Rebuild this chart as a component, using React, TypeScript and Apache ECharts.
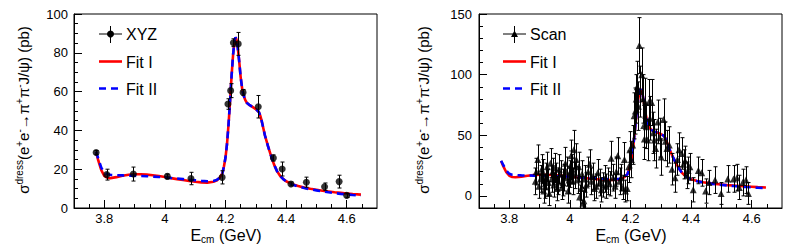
import React, { useEffect, useRef } from 'react';
import * as echarts from 'echarts';

// ---------- data ----------
const xyzE = [3.773, 3.808, 3.896, 4.008, 4.086, 4.189, 4.208, 4.217, 4.226, 4.242, 4.258, 4.308, 4.358, 4.387, 4.416, 4.467, 4.527, 4.575, 4.6];
const xyzVal = [28.6, 17.2, 17.5, 16.3, 15.2, 15.8, 53.6, 60.5, 85.2, 84.6, 59.6, 52.2, 25.8, 20.1, 12.4, 13.3, 11.0, 13.6, 6.5];
const xyzErr = [1.0, 2.8, 3.6, 1.2, 3.2, 3.4, 2.7, 3.6, 2.0, 5.9, 1.5, 5.8, 1.6, 3.6, 1.0, 2.6, 1.9, 3.3, 1.0];

const scanE = [
  3.886, 3.889, 3.894, 3.898, 3.903, 3.907, 3.910, 3.914, 3.918, 3.921,
  3.925, 3.929, 3.932, 3.936, 3.940, 3.943, 3.947, 3.951, 3.954, 3.958,
  3.962, 3.965, 3.969, 3.973, 3.977, 3.981, 3.985, 3.989, 3.994, 3.997,
  3.999, 4.002, 4.004, 4.008, 4.010, 4.013, 4.017, 4.021, 4.026, 4.029,
  4.032, 4.037, 4.040, 4.043, 4.046, 4.050, 4.054, 4.060, 4.065, 4.070,
  4.076, 4.081, 4.087, 4.092, 4.098, 4.104, 4.109, 4.115, 4.120, 4.126,
  4.131, 4.136, 4.142, 4.149, 4.153, 4.158, 4.164, 4.169, 4.175, 4.180,
  4.183, 4.189, 4.194, 4.198, 4.203, 4.207, 4.212, 4.216, 4.219, 4.222,
  4.226, 4.229, 4.233, 4.237, 4.241, 4.244, 4.246, 4.249, 4.252, 4.257,
  4.260, 4.264, 4.270, 4.275, 4.279, 4.283, 4.290, 4.296, 4.301, 4.309,
  4.315, 4.320, 4.328, 4.337, 4.347, 4.355, 4.360, 4.369, 4.375, 4.380,
  4.386, 4.390, 4.396, 4.407, 4.424, 4.435, 4.448, 4.459, 4.479, 4.499,
  4.521, 4.540, 4.551, 4.559, 4.570, 4.581, 4.589
];
const scanVal = [
  12, 20, 30, 8, 14, 22, 19, 4, 8, 16,
  24, 11, 2, 27, 14, 20, 9, 23, 16, 6,
  12, 22, 18, 7, 11, 15, 27, 20, 4, 13,
  18, 25, 33, 22, 12, 38, 17, 30, 13, 24,
  -1, 6, 18, -6, -4, 14, 9, 20, 26, 12,
  16, 6, 8, 19, 11, 5, 9, 14, 8, 12,
  10, 31, 15, 8, 20, 33, 12, 15, 7, 30,
  4, 6, 24, 38, 30, 42, 66, 70, 80, 90,
  74, 124, 86, 100, 80, 58, 47, 77, 57, 46,
  77, 64, 77, 52, 46, 39, 61, 48, 32, 63,
  45, 39, 42, 22, 15, 30, 38, 35, 26, 29,
  17, 21, 24, 5, 21, 19, 4, 11, 13, 2,
  14, 14, 15, 7, 11, 13, 2
];
const scanErr = [
  11, 11, 12, 10, 11, 12, 11, 10, 10, 11,
  12, 11, 10, 12, 11, 11, 10, 12, 11, 10,
  11, 12, 11, 10, 11, 11, 13, 12, 10, 11,
  11, 12, 13, 12, 11, 16, 11, 13, 11, 12,
  10, 10, 11, 10, 10, 11, 10, 12, 12, 11,
  11, 10, 10, 11, 11, 10, 10, 11, 10, 11,
  10, 14, 11, 10, 12, 15, 11, 11, 10, 14,
  9, 10, 13, 15, 15, 16, 19, 19, 20, 21,
  20, 23, 21, 22, 20, 18, 17, 20, 18, 17,
  19, 18, 19, 17, 17, 16, 18, 16, 15, 17,
  16, 15, 15, 13, 12, 13, 14, 13, 12, 12,
  11, 11, 11, 10, 11, 11, 10, 10, 11, 9,
  11, 11, 11, 10, 11, 11, 9
];

const fitE = [
  3.773, 3.78, 3.79, 3.80, 3.81, 3.82, 3.84, 3.86, 3.88, 3.90,
  3.92, 3.94, 3.96, 3.98, 4.00, 4.02, 4.04, 4.06, 4.08, 4.10,
  4.12, 4.14, 4.16, 4.17, 4.18, 4.19, 4.195, 4.20, 4.205, 4.21,
  4.215, 4.22, 4.225, 4.23, 4.233, 4.236, 4.24, 4.245, 4.25, 4.255,
  4.26, 4.265, 4.27, 4.28, 4.29, 4.30, 4.31, 4.315, 4.32, 4.325,
  4.33, 4.34, 4.35, 4.36, 4.37, 4.38, 4.39, 4.40, 4.42, 4.44,
  4.46, 4.48, 4.50, 4.52, 4.54, 4.56, 4.58, 4.60, 4.62, 4.647
];
const fit1 = [
  28.8, 24.5, 19.5, 16.6, 15.6, 15.4, 15.9, 16.6, 17.1, 17.4,
  17.4, 17.2, 16.9, 16.5, 16.0, 15.4, 14.9, 14.4, 13.9, 13.5,
  13.2, 13.1, 13.5, 14.1, 15.4, 18.0, 21.5, 26.0, 33.0, 43.0,
  55.0, 68.0, 79.0, 86.5, 88.0, 87.0, 83.5, 76.0, 67.5, 61.5,
  58.0, 55.7, 54.3, 53.0, 52.0, 51.0, 49.5, 47.5, 44.5, 41.0,
  37.5, 32.0, 27.0, 22.5, 19.0, 16.6, 15.0, 13.8, 12.3, 11.3,
  10.5, 9.9, 9.4, 8.9, 8.5, 8.1, 7.8, 7.5, 7.2, 6.9
];
const fit2 = [
  29.0, 25.5, 20.8, 18.2, 17.4, 17.1, 16.9, 16.8, 16.7, 16.6,
  16.5, 16.4, 16.2, 16.0, 15.8, 15.5, 15.2, 14.9, 14.6, 14.3,
  14.0, 13.8, 13.9, 14.4, 15.5, 18.0, 21.5, 26.0, 33.0, 43.0,
  55.0, 68.0, 79.0, 86.5, 88.0, 87.0, 83.5, 76.0, 67.5, 61.5,
  58.0, 55.7, 54.3, 53.0, 52.0, 51.0, 49.5, 47.5, 44.5, 41.0,
  37.5, 32.0, 27.0, 22.5, 19.0, 16.6, 15.0, 13.7, 12.1, 11.1,
  10.3, 9.6, 9.1, 8.6, 8.1, 7.7, 7.3, 7.0, 6.7, 6.3
];

const xMajor = [3.8, 4.0, 4.2, 4.4, 4.6];
const xMinor = [3.75, 3.85, 3.9, 3.95, 4.05, 4.1, 4.15, 4.25, 4.3, 4.35, 4.45, 4.5, 4.55, 4.65];
const yLeftMajor = [0, 20, 40, 60, 80, 100];
const yLeftMinor = [5, 10, 15, 25, 30, 35, 45, 50, 55, 65, 70, 75, 85, 90, 95];
const yRightMajor = [0, 50, 100, 150];
const yRightMinor = [10, 20, 30, 40, 60, 70, 80, 90, 110, 120, 130, 140];

const FONT = '"Liberation Sans", Arial, Helvetica, sans-serif';

function renderErr(params: any, api: any) {
  const x = api.value(0);
  const y = api.value(1);
  const e = api.value(2);
  const hi = api.coord([x, y + e]);
  const lo = api.coord([x, y - e]);
  const cx = Math.round(hi[0]) + 0.5;
  const cw = 2;
  const st = { stroke: '#000', lineWidth: 1 };
  return {
    type: 'group',
    children: [
      { type: 'line', shape: { x1: cx, y1: hi[1], x2: cx, y2: lo[1] }, style: st },
      { type: 'line', shape: { x1: cx - cw, y1: hi[1], x2: cx + cw, y2: hi[1] }, style: st },
      { type: 'line', shape: { x1: cx - cw, y1: lo[1], x2: cx + cw, y2: lo[1] }, style: st },
    ],
  };
}

function xAxes(grid: number) {
  return [
    {
      gridIndex: grid, type: 'value', min: 3.7, max: 4.7, position: 'bottom',
      axisLine: { show: true, onZero: false, lineStyle: { color: '#000', width: 1 } },
      axisTick: { show: true, inside: true, length: 8, customValues: xMajor, lineStyle: { color: '#000' } },
      axisLabel: { customValues: xMajor, margin: 4, color: '#000', fontSize: 13, fontFamily: FONT },
      splitLine: { show: false },
    },
    {
      gridIndex: grid, type: 'value', min: 3.7, max: 4.7, position: 'bottom',
      axisLine: { show: false, onZero: false },
      axisTick: { show: true, inside: true, length: 4, customValues: xMinor, lineStyle: { color: '#000' } },
      axisLabel: { show: false },
      splitLine: { show: false },
    },
  ];
}

function yAxes(grid: number, min: number, max: number, major: number[], minor: number[], margin: number) {
  return [
    {
      gridIndex: grid, type: 'value', min, max, position: 'left',
      axisLine: { show: true, onZero: false, lineStyle: { color: '#000', width: 1 } },
      axisTick: { show: true, inside: true, length: 8, customValues: major, lineStyle: { color: '#000' } },
      axisLabel: { customValues: major, margin, color: '#000', fontSize: 13, fontFamily: FONT },
      splitLine: { show: false },
    },
    {
      gridIndex: grid, type: 'value', min, max, position: 'left',
      axisLine: { show: false, onZero: false },
      axisTick: { show: true, inside: true, length: 4, customValues: minor, lineStyle: { color: '#000' } },
      axisLabel: { show: false },
      splitLine: { show: false },
    },
  ];
}

function fitSeries(xi: number, yi: number) {
  return [
    {
      type: 'line', xAxisIndex: xi, yAxisIndex: yi, showSymbol: false, symbol: 'none', z: 2,
      data: fitE.map((e, i) => [e, fit1[i]]),
      lineStyle: { color: '#ff0000', width: 2.6 },
    },
    {
      type: 'line', xAxisIndex: xi, yAxisIndex: yi, showSymbol: false, symbol: 'none', z: 3,
      data: fitE.map((e, i) => [e, fit2[i]]),
      lineStyle: { color: '#0000ff', width: 2.6, type: [7, 5] },
    },
  ];
}

const richY = {
  m: { fontSize: 15, fontFamily: FONT, lineHeight: 18, fill: '#000' },
  sup: { fontSize: 10, fontFamily: FONT, lineHeight: 10, padding: [0, 0, 7, 0], fill: '#000' },
};
const yTitle = '{m|σ}{sup|dress}{m|(e}{sup|+}{m|e}{sup|-}{m|→π}{sup|+}{m|π}{sup|-}{m|J/ψ) (pb)}';
const richX = {
  m: { fontSize: 16, fontFamily: FONT, lineHeight: 16, fill: '#000' },
  sub: { fontSize: 10, fontFamily: FONT, lineHeight: 8, padding: [8, 0, 0, 0], fill: '#000' },
};
const xTitle = '{m|E}{sub|cm}{m| (GeV)}';

function legendItems(dx: number, first: string, triangle: boolean) {
  const lx1 = 99 + dx, lx2 = 122 + dx, cx = 110.5 + dx, tx = 126 + dx;
  const items: any[] = [
    { type: 'line', shape: { x1: lx1, y1: 34, x2: lx2, y2: 34 }, style: { stroke: '#000', lineWidth: 1 } },
    { type: 'line', shape: { x1: cx, y1: 26, x2: cx, y2: 43 }, style: { stroke: '#000', lineWidth: 1 } },
    triangle
      ? { type: 'polygon', shape: { points: [[cx - 3.5, 37], [cx + 3.5, 37], [cx, 30.5]] }, style: { fill: '#000' } }
      : { type: 'circle', shape: { cx, cy: 34, r: 3.5 }, style: { fill: '#000' } },
    { type: 'text', x: tx, y: 34.5, style: { text: first, fontSize: 16, fontFamily: FONT, fill: '#000', verticalAlign: 'middle' } },
    { type: 'line', shape: { x1: lx1, y1: 61.5, x2: lx2, y2: 61.5 }, style: { stroke: '#ff0000', lineWidth: 2.6 } },
    { type: 'text', x: tx, y: 62, style: { text: 'Fit I', fontSize: 16, fontFamily: FONT, fill: '#000', verticalAlign: 'middle' } },
    { type: 'line', shape: { x1: lx1, y1: 88.5, x2: lx2, y2: 88.5 }, style: { stroke: '#0000ff', lineWidth: 2.6, lineDash: [7, 5] } },
    { type: 'text', x: tx, y: 89, style: { text: 'Fit II', fontSize: 16, fontFamily: FONT, fill: '#000', verticalAlign: 'middle' } },
  ];
  return items;
}

export default function App() {
  const ref = useRef<HTMLDivElement>(null);
  useEffect(() => {
    if (!ref.current) return;
    const chart = echarts.init(ref.current, undefined, { renderer: 'svg' });
    const option: any = {
      animation: false,
      backgroundColor: '#fff',
      grid: [
        { left: 74, top: 14, width: 303, height: 194, show: true, borderColor: '#000', borderWidth: 1, backgroundColor: 'transparent', outerBoundsMode: 'none' },
        { left: 479, top: 14, width: 303, height: 194, show: true, borderColor: '#000', borderWidth: 1, backgroundColor: 'transparent', outerBoundsMode: 'none' },
      ],
      xAxis: [...xAxes(0), ...xAxes(1)],
      yAxis: [
        ...yAxes(0, 0, 100, yLeftMajor, yLeftMinor, 6),
        ...yAxes(1, -10, 150, yRightMajor, yRightMinor, 7),
      ],
      series: [
        ...fitSeries(0, 0),
        {
          type: 'custom', xAxisIndex: 0, yAxisIndex: 0, z: 4, clip: true,
          encode: { x: 0, y: 1 },
          data: xyzE.map((e, i) => [e, xyzVal[i], xyzErr[i]]),
          renderItem: renderErr,
        },
        {
          type: 'scatter', xAxisIndex: 0, yAxisIndex: 0, z: 5, symbol: 'circle', symbolSize: 7,
          itemStyle: { color: '#000' },
          data: xyzE.map((e, i) => [e, xyzVal[i]]),
        },
        ...fitSeries(2, 2),
        {
          type: 'custom', xAxisIndex: 2, yAxisIndex: 2, z: 4, clip: true,
          encode: { x: 0, y: 1 },
          data: scanE.map((e, i) => [e, scanVal[i], scanErr[i]]),
          renderItem: renderErr,
        },
        {
          type: 'scatter', xAxisIndex: 2, yAxisIndex: 2, z: 5, symbol: 'triangle', symbolSize: 7,
          itemStyle: { color: '#000' },
          data: scanE.map((e, i) => [e, scanVal[i]]),
        },
      ],
      graphic: [
        { type: 'text', x: 23, y: 110, rotation: Math.PI / 2, style: { text: yTitle, rich: richY, align: 'center', verticalAlign: 'middle', fontSize: 15, fontFamily: FONT, fill: '#000' } },
        { type: 'text', x: 423, y: 110, rotation: Math.PI / 2, style: { text: yTitle, rich: richY, align: 'center', verticalAlign: 'middle', fontSize: 15, fontFamily: FONT, fill: '#000' } },
        { type: 'text', x: 226, y: 235, style: { text: xTitle, rich: richX, align: 'center', verticalAlign: 'middle', fontSize: 16, fontFamily: FONT, fill: '#000' } },
        { type: 'text', x: 631, y: 235, style: { text: xTitle, rich: richX, align: 'center', verticalAlign: 'middle', fontSize: 16, fontFamily: FONT, fill: '#000' } },
        ...legendItems(0, 'XYZ', false),
        ...legendItems(404, 'Scan', true),
      ],
    };
    chart.setOption(option);
    return () => chart.dispose();
  }, []);
  return <div ref={ref} style={{ position: 'fixed', left: 0, top: 0, width: 810, height: 252, background: '#fff' }} />;
}
